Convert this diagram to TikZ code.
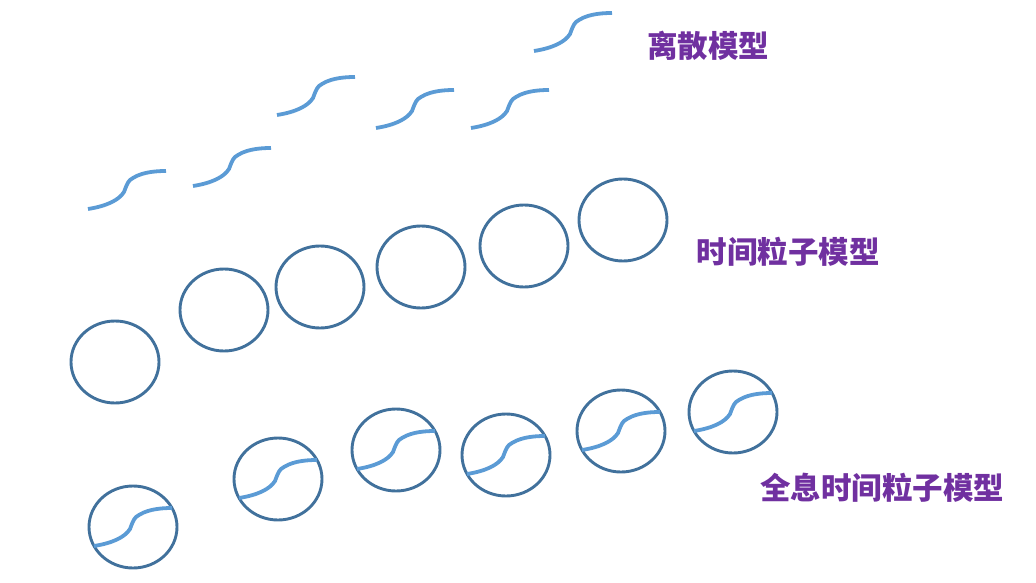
\documentclass[tikz,border=0pt]{standalone}
\usepackage{fontspec}
\newfontfamily\cjk{Noto Sans CJK SC}
\usetikzlibrary{shapes.geometric}
\definecolor{ringblue}{HTML}{41719C}
\definecolor{curveblue}{HTML}{5B9BD5}
\definecolor{labelpurple}{HTML}{7030A0}
\tikzset{
  ring/.style={draw=ringblue, line width=2.9pt, ellipse, minimum width=88pt, minimum height=82pt, inner sep=0pt},
  scurve/.pic={\draw[curveblue, line width=3.8pt] (-39,19) .. controls (-20,16) and (-8,10) .. (-3,2) .. controls (-1,-3) and (0,-7) .. (3,-10) .. controls (12,-17) and (25,-19) .. (39,-19);},
  lbl/.style={text=labelpurple, font=\cjk\bfseries\fontsize{30.5}{36}\selectfont, inner sep=0pt}
}
\begin{document}
\begin{tikzpicture}[x=1pt,y=-1pt]
\useasboundingbox (0,0) rectangle (1036,583);
% discrete model curves
\pic at (573,32) {scurve};
\pic at (316,96) {scurve};
\pic at (415,109) {scurve};
\pic at (510,109) {scurve};
\pic at (127,190) {scurve};
\pic at (232,167) {scurve};
\node[lbl] (l1) at (708,46) {离散模型};
% time particle circles
\node[ring] (c1) at (115,362) {};
\node[ring] (c2) at (224,310) {};
\node[ring] (c3) at (320,287) {};
\node[ring] (c4) at (421,267) {};
\node[ring] (c5) at (524,246) {};
\node[ring] (c6) at (623,220) {};
\node[lbl] (l2) at (788,252) {时间粒子模型};
% holographic circles
\node[ring] (h1) at (133,527) {};
\node[ring] (h2) at (278,479) {};
\node[ring] (h3) at (396,450) {};
\node[ring] (h4) at (506,455) {};
\node[ring] (h5) at (621,431) {};
\node[ring] (h6) at (733,412) {};
\pic at (h1) {scurve};
\pic at (h2) {scurve};
\pic at (h3) {scurve};
\pic at (h4) {scurve};
\pic at (h5) {scurve};
\pic at (h6) {scurve};
\node[lbl] (l3) at (882,488) {全息时间粒子模型};
\end{tikzpicture}
\end{document}
